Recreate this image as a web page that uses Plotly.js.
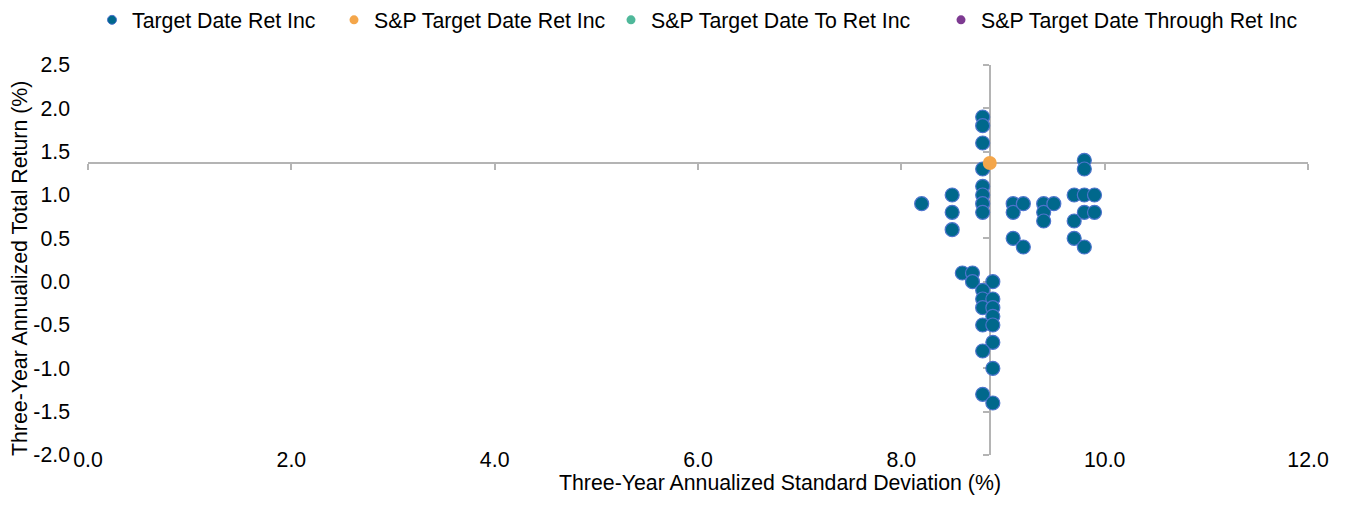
<!DOCTYPE html>
<html><head><meta charset="utf-8">
<script src="https://cdn.plot.ly/plotly-3.0.1.min.js"></script>
<style>html,body{margin:0;padding:0;background:#fff}#chart{width:1346px;height:518px}</style>
</head><body><div id="chart"></div>
<script>
const seriesNames = ['Target Date Ret Inc', 'S&P Target Date Ret Inc', 'S&P Target Date To Ret Inc', 'S&P Target Date Through Ret Inc'];
// Three-Year Annualized Standard Deviation (%) / Total Return (%)
const fundSD  = [8.2, 8.5, 8.5, 8.5, 8.8, 8.8, 8.8, 8.8, 8.8, 8.8, 8.8, 8.8,
                 8.6, 8.7, 8.7, 8.9, 8.8, 8.8, 8.9, 8.8, 8.9, 8.9, 8.8, 8.9, 8.9, 8.8, 8.9, 8.8, 8.9,
                 9.1, 9.1, 9.2, 9.1, 9.2, 9.4, 9.4, 9.4, 9.5,
                 9.7, 9.7, 9.7, 9.8, 9.8, 9.8, 9.8, 9.8, 9.9, 9.9];
const fundRet = [0.9, 1.0, 0.8, 0.6, 1.9, 1.8, 1.6, 1.3, 1.1, 1.0, 0.9, 0.8,
                 0.1, 0.1, 0.0, 0.0, -0.1, -0.2, -0.2, -0.3, -0.3, -0.4, -0.5, -0.5, -0.7, -0.8, -1.0, -1.3, -1.4,
                 0.9, 0.8, 0.9, 0.5, 0.4, 0.9, 0.8, 0.7, 0.9,
                 1.0, 0.7, 0.5, 1.4, 1.3, 1.0, 0.8, 0.4, 1.0, 0.8];
const spRetSD = [8.87];
const spRetRet = [1.37];
const spToSD = [];
const spToRet = [];
const spThroughSD = [];
const spThroughRet = [];
const seriesColors = ['#00688C', '#F4A64A', '#4FB89A', '#7D3A91'];
const xTickVals = [0, 2, 4, 6, 8, 10, 12];
const xTickText = ['0.0', '2.0', '4.0', '6.0', '8.0', '10.0', '12.0'];
const yTickVals = [-2, -1.5, -1, -0.5, 0, 0.5, 1, 1.5, 2, 2.5];
const yTickText = ['-2.0', '-1.5', '-1.0', '-0.5', '0.0', '0.5', '1.0', '1.5', '2.0', '2.5'];
const xTitle = 'Three-Year Annualized Standard Deviation (%)';
const yTitle = 'Three-Year Annualized Total Return (%)';

const xRange = [xTickVals[0], xTickVals[xTickVals.length - 1]];
const yRange = [yTickVals[0], yTickVals[yTickVals.length - 1]];
const crossX = spRetSD[0], crossY = spRetRet[0];

const FONT = 'Liberation Sans, Arial, sans-serif';
const FS = 21.3;
const AXC = '#B4B4B4';

const seriesX = [fundSD, spRetSD, spToSD, spThroughSD];
const seriesY = [fundRet, spRetRet, spToRet, spThroughRet];
const legendIds = ['legend', 'legend2', 'legend3', 'legend4'];
const legendPx = [92, 334, 611, 941];

const traces = [];
seriesNames.forEach((nm, i) => {
  const isFund = i === 0;
  traces.push({
    type: 'scatter', mode: 'markers', name: nm, x: seriesX[i], y: seriesY[i],
    showlegend: false, cliponaxis: false, hoverinfo: 'x+y+name',
    marker: { size: 14, color: seriesColors[i], line: { width: isFund ? 1.2 : 0, color: '#4C74CC' } }
  });
});
seriesNames.forEach((nm, i) => {
  traces.push({
    type: 'scatter', mode: 'markers', name: nm, x: [null], y: [null],
    legend: legendIds[i], showlegend: true, hoverinfo: 'skip',
    marker: { size: 9, color: seriesColors[i], line: { width: i === 0 ? 1 : 0, color: '#4C74CC' } }
  });
});
traces.push({ type: 'scatter', mode: 'markers', x: [null], y: [null], xaxis: 'x2', yaxis: 'y2', showlegend: false, hoverinfo: 'skip' });

const legendBase = { orientation: 'h', xref: 'container', yref: 'container', xanchor: 'left', yanchor: 'middle', y: 1 - 20 / 518, bgcolor: 'rgba(0,0,0,0)', font: { family: FONT, size: FS, color: '#000' } };

const layout = {
  width: 1346, height: 518,
  margin: { l: 88, r: 38, t: 65, b: 63 },
  paper_bgcolor: '#fff', plot_bgcolor: '#fff',
  font: { family: FONT, size: FS, color: '#000' },
  showlegend: true,
  xaxis: { range: xRange, tickvals: xTickVals, ticktext: xTickText, showgrid: false, zeroline: false, showline: false, ticks: '', ticklabelstandoff: -10, tickfont: { family: FONT, size: FS, color: '#000' } },
  yaxis: { range: yRange, tickvals: yTickVals, ticktext: yTickText, showgrid: false, zeroline: false, showline: false, ticks: '', ticklabelstandoff: 17, tickfont: { family: FONT, size: FS, color: '#000' } },
  xaxis2: { overlaying: 'x', anchor: 'free', position: (crossY - yRange[0]) / (yRange[1] - yRange[0]), range: xRange, tickvals: xTickVals, showticklabels: false, ticks: 'outside', ticklen: 6, tickwidth: 1.5, tickcolor: AXC, showline: true, linecolor: AXC, linewidth: 1.5, showgrid: false, zeroline: false, layer: 'below traces', side: 'bottom' },
  yaxis2: { overlaying: 'y', anchor: 'free', position: (crossX - xRange[0]) / (xRange[1] - xRange[0]), range: yRange, tickvals: yTickVals, showticklabels: false, ticks: 'outside', ticklen: 6, tickwidth: 1.5, tickcolor: AXC, showline: true, linecolor: AXC, linewidth: 1.5, showgrid: false, zeroline: false, layer: 'below traces', side: 'left' },
  annotations: [
    { text: xTitle, xref: 'paper', yref: 'paper', x: (780 - 88) / 1220, y: -(483 - 455) / 390, xanchor: 'center', yanchor: 'middle', showarrow: false, font: { family: FONT, size: FS, color: '#000' } },
    { text: yTitle, xref: 'paper', yref: 'paper', x: -(88 - 20) / 1220, y: (455 - 269) / 390, xanchor: 'center', yanchor: 'middle', textangle: -90, showarrow: false, font: { family: FONT, size: FS, color: '#000' } }
  ]
};
legendIds.forEach((id, i) => { layout[id] = Object.assign({}, legendBase, { x: legendPx[i] / 1346 }); });

Plotly.newPlot('chart', traces, layout, { displayModeBar: false, responsive: false });
</script>
</body></html>
